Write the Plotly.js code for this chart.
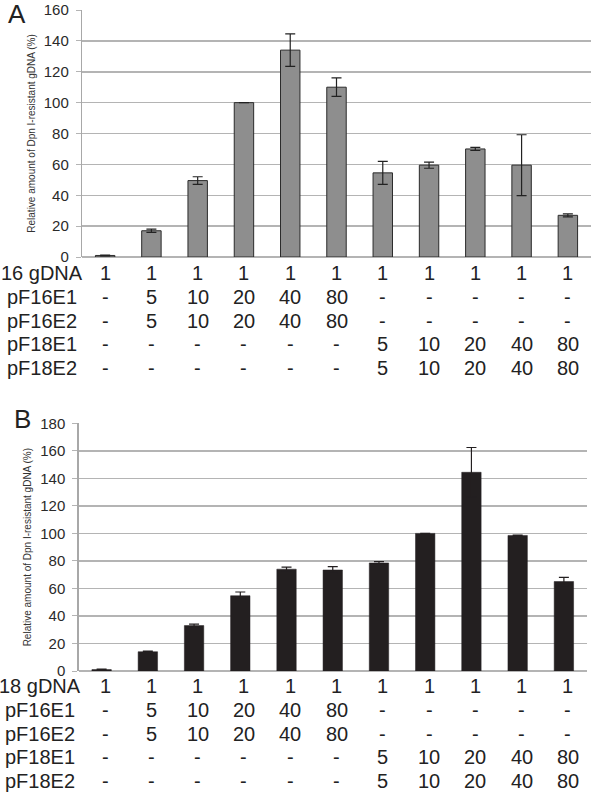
<!DOCTYPE html>
<html>
<head>
<meta charset="utf-8">
<script src="https://cdn.plot.ly/plotly-3.0.1.min.js"></script>
<style>
  html, body { margin: 0; padding: 0; background: #fff; }
  #chart { width: 600px; height: 794px; }
</style>
</head>
<body>
<div id="chart"></div>
<script>
// lanes 1..11
const lanes = ['L1', 'L2', 'L3', 'L4', 'L5', 'L6', 'L7', 'L8', 'L9', 'L10', 'L11'];

// panel A (16 gDNA)
const valuesA = [1, 17, 49.5, 100, 134, 110, 54.5, 59.5, 70, 59.5, 27];
const errorsA = [0.3, 1, 2.5, 0, 10.5, 6, 7.5, 2, 1, 19.7, 1];

// panel B (18 gDNA)
const valuesB = [1, 14, 33, 54.7, 74, 73.4, 78.5, 100, 144.4, 98.5, 65];
const errorsB = [0.3, 0.5, 1, 2.7, 1.5, 2.5, 1, 0, 18, 0.3, 3];

// table under each panel
const rowLabelsA = ['16 gDNA', 'pF16E1', 'pF16E2', 'pF18E1', 'pF18E2'];
const rowLabelsB = ['18 gDNA', 'pF16E1', 'pF16E2', 'pF18E1', 'pF18E2'];
const rowGDNA  = ['1', '1', '1', '1', '1', '1', '1', '1', '1', '1', '1'];
const rowF16E1 = ['-', '5', '10', '20', '40', '80', '-', '-', '-', '-', '-'];
const rowF16E2 = ['-', '5', '10', '20', '40', '80', '-', '-', '-', '-', '-'];
const rowF18E1 = ['-', '-', '-', '-', '-', '-', '5', '10', '20', '40', '80'];
const rowF18E2 = ['-', '-', '-', '-', '-', '-', '5', '10', '20', '40', '80'];
const tableRows = [rowGDNA, rowF16E1, rowF16E2, rowF18E1, rowF18E2];

const yTitle = 'Relative amount of Dpn I-resistant gDNA (%)';

const W = 600, H = 794;
const py = v => 1 - v / H;

const traceA = {
  x: lanes,
  y: valuesA,
  type: 'bar',
  width: 0.42,
  marker: { color: '#8e8e8e', line: { color: '#2b2b2b', width: 1 } },
  error_y: { type: 'data', array: errorsA, visible: true, color: '#222', thickness: 1.2, width: 5 },
  xaxis: 'x',
  yaxis: 'y',
  hoverinfo: 'y'
};

const traceB = {
  x: lanes,
  y: valuesB,
  type: 'bar',
  width: 0.42,
  marker: { color: '#231f20', line: { color: '#231f20', width: 0.5 } },
  error_y: { type: 'data', array: errorsB, visible: true, color: '#231f20', thickness: 1.2, width: 5 },
  xaxis: 'x2',
  yaxis: 'y2',
  hoverinfo: 'y'
};

const yAxisBase = {
  showgrid: true,
  gridcolor: '#b4b4b4',
  gridwidth: 1.5,
  zeroline: true,
  zerolinecolor: '#b4b4b4',
  zerolinewidth: 1.5,
  showline: true,
  linecolor: '#a8a8a8',
  linewidth: 1.2,
  ticks: 'outside',
  ticklen: 5,
  tickcolor: '#b4b4b4',
  ticklabelstandoff: 4,
  tickfont: { family: 'Liberation Sans, Arial, sans-serif', size: 15, color: '#2a2a2a' },
  title: { text: yTitle, font: { family: 'Liberation Sans, Arial, sans-serif', size: 10, color: '#333' }, standoff: 6 }
};

const xAxisBase = {
  type: 'category',
  showticklabels: false,
  showgrid: false,
  zeroline: false,
  showline: false,
  ticks: ''
};

const annotations = [];
const textFont = { family: 'Liberation Sans, Arial, sans-serif', size: 20, color: '#222' };

function addTable(labels, yStart, step, labelX) {
  labels.forEach((lab, r) => {
    const y = py(yStart + r * step);
    annotations.push({
      text: lab, xref: 'paper', yref: 'paper', x: labelX / W, y: y,
      xanchor: 'center', yanchor: 'middle', showarrow: false, font: textFont
    });
    tableRows[r].forEach((val, i) => {
      annotations.push({
        text: val, xref: 'x', yref: 'paper', x: lanes[i], y: y,
        xanchor: 'center', yanchor: 'middle', showarrow: false, font: textFont
      });
    });
  });
}

addTable(rowLabelsA, 273, 23.8, 42);
addTable(rowLabelsB, 686, 23.8, 40);

annotations.push({
  text: 'A', xref: 'paper', yref: 'paper', x: 17 / W, y: py(14),
  xanchor: 'center', yanchor: 'middle', showarrow: false,
  font: { family: 'Liberation Sans, Arial, sans-serif', size: 26, color: '#222' }
});
annotations.push({
  text: 'B', xref: 'paper', yref: 'paper', x: 22 / W, y: py(419),
  xanchor: 'center', yanchor: 'middle', showarrow: false,
  font: { family: 'Liberation Sans, Arial, sans-serif', size: 26, color: '#222' }
});

const layout = {
  width: W,
  height: H,
  margin: { l: 0, r: 0, t: 0, b: 0 },
  paper_bgcolor: '#ffffff',
  plot_bgcolor: '#ffffff',
  showlegend: false,
  xaxis: { ...xAxisBase, domain: [82 / W, 591 / W], anchor: 'y' },
  yaxis: { ...yAxisBase, domain: [py(257), py(10)], range: [0, 160], dtick: 20, anchor: 'x' },
  xaxis2: { ...xAxisBase, domain: [78.5 / W, 587 / W], anchor: 'y2' },
  yaxis2: { ...yAxisBase, domain: [py(671), py(423.3)], range: [0, 180], dtick: 20, anchor: 'x2' },
  annotations: annotations
};

Plotly.newPlot('chart', [traceA, traceB], layout, { displayModeBar: false, staticPlot: true });
</script>
</body>
</html>
